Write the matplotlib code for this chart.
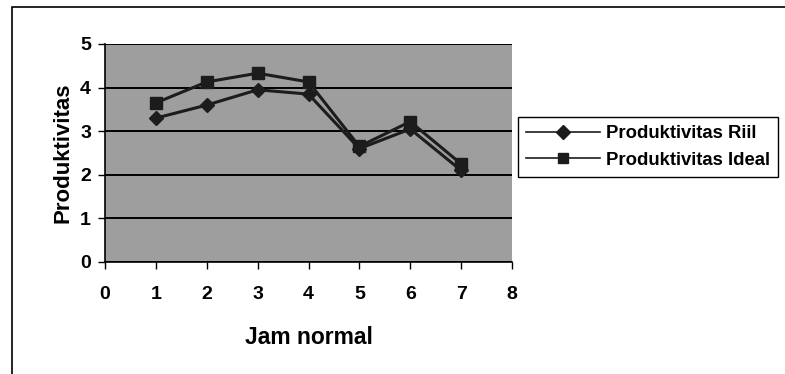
import matplotlib
matplotlib.use('Agg')
import matplotlib.pyplot as plt
from matplotlib.patches import Rectangle

# data
jam = [1, 2, 3, 4, 5, 6, 7]
prod_riil = [3.3, 3.6, 3.95, 3.85, 2.6, 3.05, 2.1]
prod_ideal = [3.65, 4.13, 4.33, 4.13, 2.65, 3.22, 2.25]
x_ticks = [0, 1, 2, 3, 4, 5, 6, 7, 8]
y_ticks = [0, 1, 2, 3, 4, 5]

plt.rcParams['font.family'] = ['Liberation Sans', 'DejaVu Sans']

fig = plt.figure(figsize=(7.85, 3.74), dpi=100)
fig.patch.set_facecolor('white')

# outer chart border
fig.patches.append(Rectangle((12 / 785, -0.1), 1.2, 1 - 7 / 374 + 0.1,
                             transform=fig.transFigure, fill=False,
                             edgecolor='black', linewidth=1.2))

ax = fig.add_axes([105 / 785, 1 - 262 / 374, 407 / 785, 218 / 374])
ax.set_facecolor('#9e9e9e')

ax.plot(jam, prod_riil, color='#1c1c1c', linewidth=2.2, marker='D',
        markersize=7.5, label='Produktivitas Riil')
ax.plot(jam, prod_ideal, color='#1c1c1c', linewidth=2.2, marker='s',
        markersize=8.5, label='Produktivitas Ideal')

ax.set_xlim(0, 8)
ax.set_ylim(0, 5)
ax.set_xticks(x_ticks)
ax.set_yticks(y_ticks)
ax.yaxis.grid(True, color='black', linewidth=1.4)
ax.set_axisbelow(True)
for side in ['top', 'right']:
    ax.spines[side].set_visible(False)
for side in ['left', 'bottom']:
    ax.spines[side].set_color('black')
    ax.spines[side].set_linewidth(1.2)

ax.tick_params(direction='out', length=5, width=1, colors='black',
               labelsize=14)
ax.tick_params(axis='x', pad=12)
ax.tick_params(axis='y', pad=5)
for lbl in ax.get_xticklabels() + ax.get_yticklabels():
    lbl.set_fontweight('bold')

ax.set_xlabel('Jam normal', fontsize=16.5, fontweight='bold', labelpad=17)
ax.set_ylabel('Produktivitas', fontsize=16, fontweight='bold', labelpad=5)

leg = fig.legend(loc='upper left', bbox_to_anchor=(518 / 785, 1 - 117 / 374),
                 fontsize=13.3, frameon=True, fancybox=False,
                 edgecolor='black', framealpha=1, handlelength=4.0,
                 borderpad=0.45, labelspacing=0.5, handletextpad=0.3,
                 borderaxespad=0)
leg.get_frame().set_linewidth(1.0)
for t in leg.get_texts():
    t.set_fontweight('bold')
for h in leg.legend_handles:
    h.set_linewidth(1.2)
    h.set_markersize(7)

plt.savefig('out.png', dpi=100, facecolor='white')
plt.close()
